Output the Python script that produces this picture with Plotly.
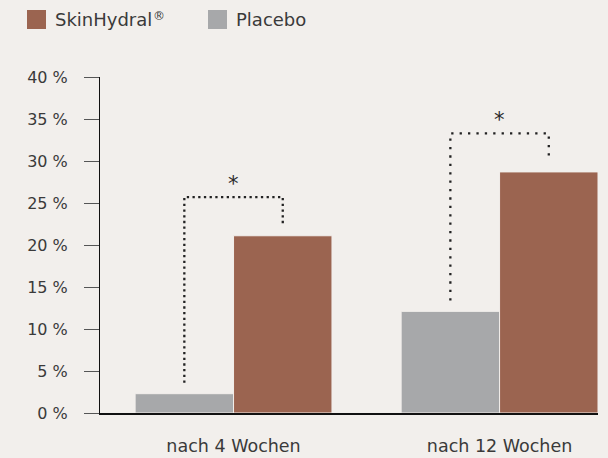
import plotly.graph_objects as go

categories = ["nach 4 Wochen", "nach 12 Wochen"]
placebo = [2.3, 12.1]
skinhydral = [21.1, 28.7]
series_names = ["SkinHydral®", "Placebo"]
y_ticks = [0, 5, 10, 15, 20, 25, 30, 35, 40]

BG = "#f2efec"
BROWN = "#9b6450"
GRAY = "#a7a8aa"
TXT = "#3a3a3a"
FONT = "DejaVu Sans"
bracket_dash = ["2.3px,3.4px", "2.3px,6.1px"]

fig = go.Figure()
fig.add_trace(go.Bar(x=[0, 1], y=placebo, name=series_names[1], marker=dict(color=GRAY, line=dict(color=BG, width=1)), showlegend=False))
fig.add_trace(go.Bar(x=[0, 1], y=skinhydral, name=series_names[0], marker=dict(color=BROWN, line=dict(color=BG, width=1)), showlegend=False))

bargap = 0.26
off = (1 - bargap) / 4
for i in range(len(categories)):
    xl, xr = i - off, i + off
    top = skinhydral[i] + 4.6
    lb = placebo[i] + 1.3
    rb = skinhydral[i] + 1.3
    fig.add_trace(go.Scatter(x=[xl, xl, xr, xr], y=[lb, top, top, rb], mode="lines",
                             line=dict(color="#222222", width=2.3, dash=bracket_dash[i]),
                             showlegend=False, hoverinfo="skip"))
    fig.add_annotation(x=i, y=top + 1.6, text="*", showarrow=False, xref="x", yref="y",
                       font=dict(family=FONT, size=21, color="#2a2a2a"), yanchor="middle")

# manual legend
L, T, PW, PH = 100, 77, 498, 336
def px(x): return (x - L) / PW
def py(y): return (T + PH - y) / PH
legend_items = [(series_names[0], BROWN, 27), (series_names[1], GRAY, 208)]
for name, col, x0 in legend_items:
    fig.add_shape(type="rect", xref="paper", yref="paper", x0=px(x0), x1=px(x0 + 19), y0=py(29), y1=py(10),
                  fillcolor=col, line=dict(width=0))
    base = name.replace("®", "")
    fig.add_annotation(xref="paper", yref="paper", x=px(x0 + 26), y=py(19.5), text=base,
                       showarrow=False, xanchor="left", yanchor="middle",
                       font=dict(family=FONT, size=18, color=TXT))
    if "®" in name:
        fig.add_annotation(xref="paper", yref="paper", x=px(151), y=py(7), text="®",
                           showarrow=False, xanchor="left", yanchor="top",
                           font=dict(family=FONT, size=12, color=TXT))

fig.update_layout(
    width=608, height=458,
    margin=dict(l=L, r=10, t=T, b=458 - T - PH, autoexpand=False),
    paper_bgcolor=BG, plot_bgcolor=BG,
    barmode="group", bargap=bargap, bargroupgap=0,
    font=dict(family=FONT, color=TXT),
    showlegend=False,
)
fig.update_xaxes(range=[-0.502, 1.37], tickvals=[0, 1], ticktext=categories, showgrid=False, zeroline=False,
                 showline=True, linecolor="#111111", linewidth=1.5, ticks="", ticklabelstandoff=16,
                 automargin=False, tickfont=dict(family=FONT, size=17.5, color=TXT), fixedrange=True)
fig.update_yaxes(range=[0, 40], tickvals=y_ticks, ticktext=[f"{v} %" for v in y_ticks], showgrid=False,
                 zeroline=False, showline=True, linecolor="#111111", linewidth=1, ticks="outside", ticklen=15,
                 tickcolor="#555555", tickwidth=1, ticklabelstandoff=13, automargin=False,
                 tickfont=dict(family=FONT, size=16, color=TXT), fixedrange=True)

fig.write_html("out.html", config={"displayModeBar": False},
               post_script="document.body.style.margin='0';document.body.style.overflow='hidden';"
                           "document.body.style.background='#f2efec';")
